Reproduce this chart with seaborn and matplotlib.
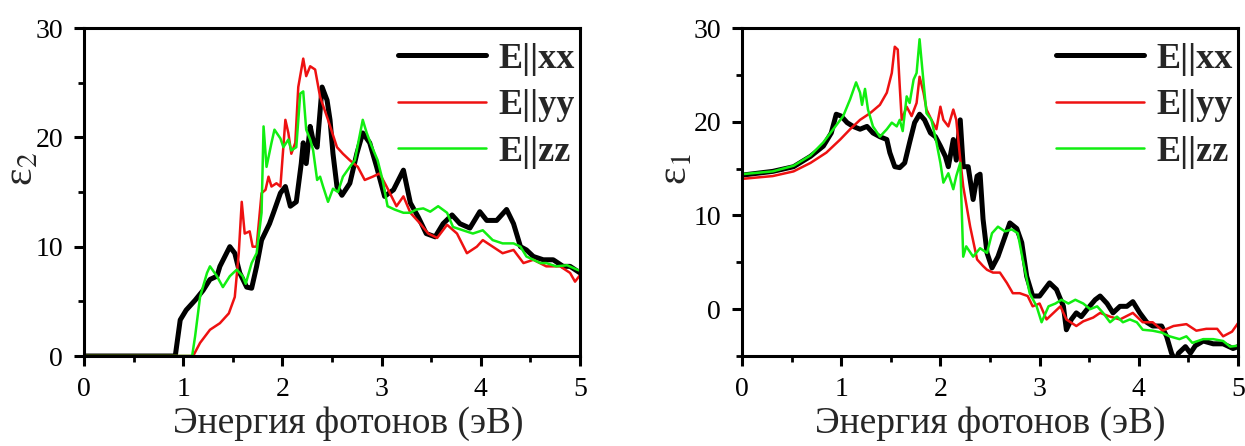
import numpy as np
import pandas as pd
import matplotlib
matplotlib.use("Agg")
import matplotlib.pyplot as plt
from matplotlib.ticker import MultipleLocator, FixedLocator
import seaborn as sns

# ---------------- data ----------------
e2_xx_x = [0, 0.92, 0.97, 1.03, 1.12, 1.20, 1.27, 1.34, 1.37, 1.47, 1.52, 1.57, 1.64, 1.69, 1.74, 1.79, 1.87, 1.91,
           1.98, 2.03, 2.08, 2.14, 2.19, 2.21, 2.24, 2.28, 2.31, 2.35, 2.40, 2.45, 2.48, 2.51, 2.55, 2.60, 2.68, 2.75,
           2.81, 2.88, 2.95, 3.03, 3.12, 3.22, 3.29, 3.37, 3.45, 3.54, 3.62, 3.71, 3.79, 3.89, 3.99, 4.06, 4.16, 4.26,
           4.33, 4.40, 4.46, 4.53, 4.63, 4.73, 4.83, 4.90, 5.00]
e2_xx_y = [0, 0, 3.3, 4.2, 5.1, 6.0, 7.0, 7.3, 8.2, 10.0, 9.4, 7.6, 6.3, 6.2, 8.2, 10.6, 12.1, 13.1,
           14.9, 15.5, 13.7, 14.1, 17.6, 19.5, 17.6, 21.0, 19.7, 19.1, 24.6, 23.4, 21.6, 18.5, 15.5, 14.7, 15.8, 18.5,
           20.4, 19.5, 17.3, 14.6, 15.2, 17.0, 14.0, 12.7, 11.2, 10.9, 12.1, 12.9, 12.1, 11.7, 13.2, 12.4, 12.4, 13.4,
           12.1, 10.0, 9.7, 9.1, 8.8, 8.8, 8.2, 8.2, 7.6]

e2_yy_x = [0, 1.10, 1.17, 1.27, 1.37, 1.46, 1.52, 1.56, 1.59, 1.62, 1.67, 1.70, 1.74, 1.79, 1.83, 1.86, 1.89, 1.94,
           1.98, 2.03, 2.06, 2.09, 2.13, 2.16, 2.21, 2.24, 2.28, 2.33, 2.38, 2.46, 2.55, 2.61, 2.68, 2.76, 2.83, 2.91,
           2.98, 3.05, 3.15, 3.22, 3.29, 3.39, 3.47, 3.56, 3.66, 3.76, 3.86, 3.96, 4.02, 4.12, 4.22, 4.33, 4.43, 4.53,
           4.66, 4.80, 4.90, 4.95, 5.00]
e2_yy_y = [0, 0, 1.2, 2.4, 3.0, 3.9, 5.4, 9.4, 14.1, 11.2, 11.4, 10.0, 10.0, 14.9, 15.2, 16.4, 15.5, 15.8,
           15.5, 21.6, 20.4, 18.5, 19.5, 24.6, 27.2, 25.6, 26.5, 26.2, 23.7, 21.6, 19.1, 18.5, 17.9, 17.3, 16.1, 16.4,
           16.7, 15.5, 13.7, 14.6, 13.1, 12.1, 11.2, 10.8, 12.0, 11.2, 9.4, 10.0, 10.6, 10.0, 9.4, 9.7, 8.5, 8.8,
           8.2, 8.2, 7.6, 6.8, 7.4]

e2_zz_x = [0, 1.09, 1.12, 1.17, 1.24, 1.27, 1.34, 1.40, 1.47, 1.54, 1.60, 1.63, 1.69, 1.74, 1.79, 1.81, 1.84, 1.89,
           1.92, 1.98, 2.01, 2.06, 2.09, 2.14, 2.18, 2.21, 2.24, 2.28, 2.31, 2.35, 2.38, 2.41, 2.46, 2.51, 2.56, 2.61,
           2.68, 2.73, 2.81, 2.85, 2.90, 2.96, 3.01, 3.06, 3.13, 3.22, 3.29, 3.35, 3.42, 3.49, 3.57, 3.66, 3.72, 3.82,
           3.92, 4.02, 4.12, 4.22, 4.33, 4.40, 4.46, 4.53, 4.60, 4.66, 4.76, 4.87, 4.97, 5.00]
e2_zz_y = [0, 0, 1.8, 5.4, 7.6, 8.2, 7.3, 6.3, 7.3, 7.9, 7.3, 6.6, 8.5, 9.4, 13.1, 21.0, 17.3, 19.5,
           20.7, 19.9, 19.1, 19.8, 18.8, 19.1, 24.0, 24.2, 20.7, 19.8, 18.8, 16.1, 16.4, 15.5, 14.1, 15.3, 15.0, 16.4,
           17.3, 17.9, 21.6, 20.4, 19.2, 17.9, 16.1, 13.7, 13.4, 13.1, 13.1, 13.4, 13.5, 13.2, 13.7, 13.1, 11.8, 11.5,
           11.2, 11.5, 10.6, 10.3, 10.3, 10.0, 9.1, 8.8, 8.5, 8.5, 8.2, 8.3, 7.9, 7.8]

e1_xx_x = [0, 0.31, 0.52, 0.69, 0.82, 0.90, 0.95, 1.00, 1.06, 1.12, 1.19, 1.26, 1.32, 1.39, 1.46, 1.49, 1.54, 1.59,
           1.64, 1.69, 1.74, 1.79, 1.84, 1.90, 1.95, 2.00, 2.05, 2.08, 2.13, 2.16, 2.20, 2.23, 2.28, 2.33, 2.37, 2.40,
           2.43, 2.47, 2.52, 2.58, 2.63, 2.70, 2.77, 2.82, 2.87, 2.93, 3.00, 3.10, 3.17, 3.24, 3.27, 3.32, 3.37, 3.42,
           3.48, 3.56, 3.61, 3.68, 3.74, 3.81, 3.88, 3.94, 4.01, 4.08, 4.14, 4.23, 4.28, 4.33, 4.37, 4.40, 4.47, 4.52,
           4.57, 4.65, 4.75, 4.85, 4.95, 5.00]
e1_xx_y = [14.3, 14.7, 15.2, 16.3, 17.4, 18.8, 20.8, 20.6, 19.9, 19.5, 19.2, 19.5, 18.8, 18.4, 18.1, 16.7, 15.2, 15.1,
           15.6, 17.8, 19.9, 20.8, 20.2, 18.8, 18.4, 17.4, 16.3, 15.2, 18.1, 15.9, 20.2, 15.2, 15.2, 11.7, 14.2, 14.4,
           9.6, 6.0, 4.4, 5.6, 7.1, 9.2, 8.6, 7.1, 3.5, 1.4, 1.4, 2.8, 2.1, 0.3, -2.2, -1.1, -0.4, -0.8,
           0.0, 1.0, 1.4, 0.6, -0.4, 0.3, 0.3, 0.8, -0.4, -1.4, -1.8, -1.8, -2.9, -4.7, -5.6, -4.7, -4.0, -4.7,
           -3.9, -3.4, -3.7, -3.7, -4.2, -4.0]

e1_yy_x = [0, 0.31, 0.52, 0.69, 0.85, 0.99, 1.09, 1.19, 1.29, 1.39, 1.46, 1.51, 1.54, 1.57, 1.59, 1.61, 1.66, 1.71,
           1.76, 1.79, 1.83, 1.86, 1.91, 1.96, 2.00, 2.03, 2.08, 2.13, 2.16, 2.20, 2.23, 2.30, 2.37, 2.43, 2.47, 2.53,
           2.60, 2.67, 2.73, 2.80, 2.88, 2.93, 3.00, 3.07, 3.14, 3.21, 3.27, 3.37, 3.44, 3.54, 3.61, 3.71, 3.81, 3.94,
           4.04, 4.14, 4.24, 4.35, 4.48, 4.58, 4.68, 4.79, 4.85, 4.94, 5.00]
e1_yy_y = [13.9, 14.2, 14.7, 15.6, 16.7, 18.1, 19.2, 20.2, 20.9, 21.8, 23.1, 25.2, 28.0, 27.7, 23.8, 20.2, 21.6, 20.6,
           22.0, 24.8, 23.1, 21.3, 20.2, 19.2, 21.6, 20.2, 19.5, 21.3, 20.2, 16.0, 13.1, 8.8, 5.3, 4.6, 4.2, 3.9,
           3.9, 2.8, 1.7, 1.7, 1.4, 0.3, 0.6, -1.1, -0.4, 0.3, -1.1, -1.8, -1.3, -0.9, -0.4, -0.8, -1.1, -0.4,
           -1.4, -1.4, -2.3, -1.8, -1.6, -2.3, -2.1, -2.1, -2.9, -2.4, -1.5]

e1_zz_x = [0, 0.31, 0.52, 0.69, 0.82, 0.92, 1.02, 1.09, 1.15, 1.19, 1.21, 1.24, 1.27, 1.32, 1.39, 1.46, 1.51, 1.56,
           1.59, 1.62, 1.66, 1.69, 1.73, 1.76, 1.79, 1.83, 1.86, 1.91, 1.96, 2.00, 2.03, 2.08, 2.13, 2.16, 2.20, 2.23,
           2.26, 2.33, 2.40, 2.47, 2.52, 2.58, 2.65, 2.72, 2.78, 2.83, 2.90, 2.97, 3.02, 3.09, 3.16, 3.22, 3.29, 3.36,
           3.44, 3.51, 3.58, 3.64, 3.71, 3.78, 3.84, 3.91, 3.98, 4.04, 4.14, 4.23, 4.31, 4.41, 4.48, 4.54, 4.65, 4.75,
           4.85, 4.92, 5.00]
e1_zz_y = [14.4, 14.7, 15.3, 16.4, 17.8, 19.2, 20.6, 22.4, 24.2, 23.1, 21.8, 23.5, 21.3, 19.5, 18.4, 19.2, 19.9, 19.5,
           20.2, 19.0, 22.7, 22.0, 24.5, 25.2, 28.8, 24.2, 20.9, 20.2, 17.8, 15.6, 13.5, 14.5, 12.8, 14.2, 15.6, 5.6,
           6.7, 5.6, 6.5, 6.0, 8.1, 8.8, 8.3, 8.5, 8.1, 5.3, 1.7, 0.3, -1.4, 0.3, 0.6, 1.0, 0.6, 1.0,
           0.6, 0.0, 0.3, -0.4, -1.4, -0.8, -1.4, -1.1, -1.4, -2.2, -2.3, -2.5, -2.9, -3.2, -2.9, -3.6, -3.2, -3.2,
           -3.4, -4.0, -3.9]

series_labels = ["E||xx", "E||yy", "E||zz"]
x_ticks = [0, 1, 2, 3, 4, 5]
xlabel = "Энергия фотонов (эВ)"

# ---------------- style ----------------
sns.set_theme(style="ticks")
plt.rcParams["font.family"] = ["Liberation Serif", "DejaVu Serif"]
plt.rcParams["mathtext.fontset"] = "stix"

colors = ["#000000", "#ee1111", "#11ee11"]
widths = [3.6, 1.8, 1.8]

fig = plt.figure(figsize=(12.45, 4.46), dpi=100)
W, H = 1245, 446
axL = fig.add_axes([84 / W, (H - 356) / H, 496 / W, 328 / H])
axR = fig.add_axes([742 / W, (H - 356) / H, 496 / W, 328 / H])


def draw(ax, xs, ys):
    for x, y, lab, c, lw in zip(xs, ys, series_labels, colors, widths):
        df = pd.DataFrame({"x": x, "y": y})
        sns.lineplot(data=df, x="x", y="y", ax=ax, color=c, linewidth=lw, label=lab,
                     estimator=None, sort=False)


draw(axL, [e2_xx_x, e2_yy_x, e2_zz_x], [e2_xx_y, e2_yy_y, e2_zz_y])
draw(axR, [e1_xx_x, e1_yy_x, e1_zz_x], [e1_xx_y, e1_yy_y, e1_zz_y])

for ax, ylab, ylim, ymajor, yminor, xlab_x in [
    (axL, "ε$_2$", (0, 30), [0, 10, 20, 30], [5, 15, 25], 0.532),
    (axR, "ε$_1$", (-5, 30), [0, 10, 20, 30], [-5, 5, 15, 25], 0.5),
]:
    ax.set_xlim(0, 5)
    ax.set_ylim(*ylim)
    ax.xaxis.set_major_locator(FixedLocator(x_ticks))
    ax.xaxis.set_minor_locator(MultipleLocator(0.5))
    ax.yaxis.set_major_locator(FixedLocator(ymajor))
    ax.yaxis.set_minor_locator(FixedLocator(yminor))
    for s in ax.spines.values():
        s.set_linewidth(2.2)
        s.set_color("black")
        s.set_visible(True)
    ax.tick_params(which="major", direction="out", length=7, width=2.2, labelsize=20,
                   colors="black", pad=8, top=False, right=False)
    ax.tick_params(which="minor", direction="out", length=4.5, width=2.0,
                   colors="black", top=False, right=False)
    ax.set_xlabel(xlabel, fontsize=27, labelpad=5)
    ax.xaxis.set_label_coords(xlab_x, -0.155)
    ax.xaxis.label.set_va("top")
    ax.set_ylabel(ylab, fontsize=30)
    ax.yaxis.label.set_va("center")
    ax.yaxis.set_label_coords(-0.125 if ax is axL else -0.133, 0.57)
    leg = ax.legend(loc="upper right", bbox_to_anchor=(0.99, 0.955), frameon=False,
                    prop={"family": "Liberation Serif", "weight": "bold", "size": 26},
                    handlelength=2.45, handletextpad=0.35, labelspacing=0.36,
                    borderaxespad=0.0, borderpad=0.0)

fig.savefig("out.png", dpi=100, facecolor="white")
